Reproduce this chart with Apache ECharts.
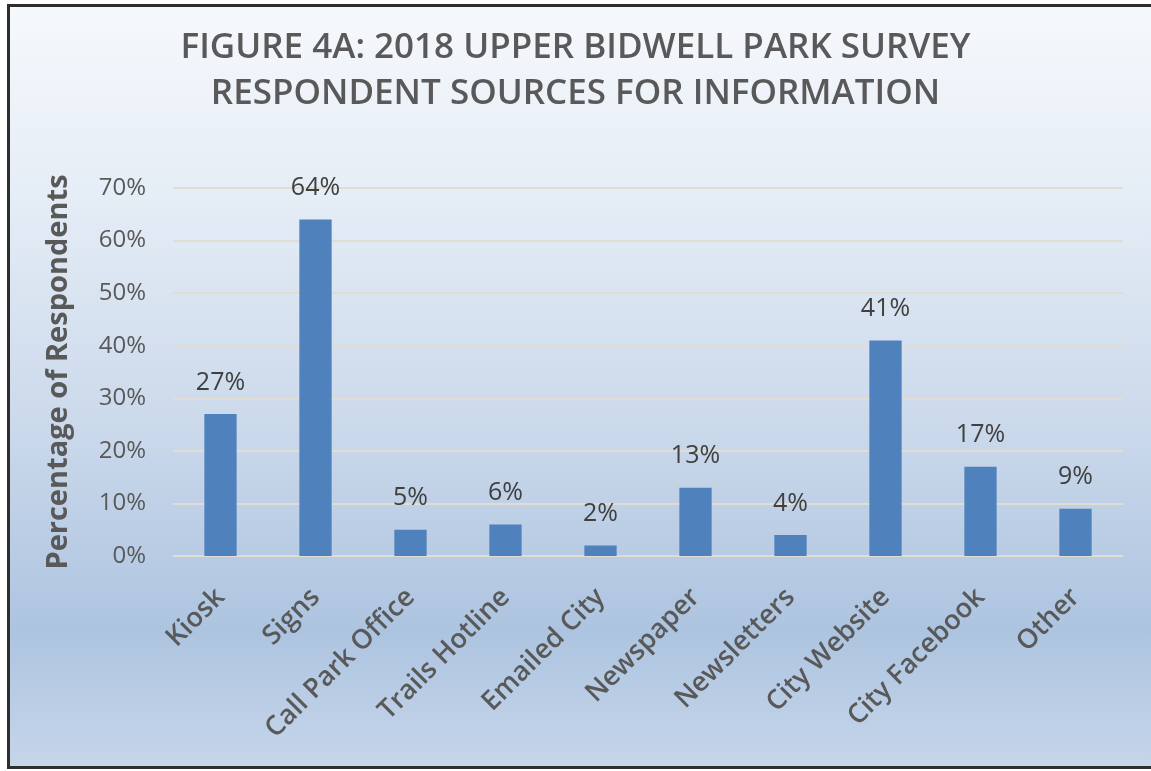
<!DOCTYPE html>
<html>
<head>
<meta charset="utf-8">
<script src="https://cdn.jsdelivr.net/npm/echarts@6/dist/echarts.min.js"></script>
<style>
  html, body { margin: 0; padding: 0; background: #ffffff; }
  #chart { width: 1151px; height: 771px; }
</style>
</head>
<body>
<div id="chart"></div>
<script>
// Survey answers: where respondents get park information
const titleLines = [
  'FIGURE 4A: 2018 UPPER BIDWELL PARK SURVEY',
  'RESPONDENT SOURCES FOR INFORMATION'
];
const categories = [
  'Kiosk', 'Signs', 'Call Park Office', 'Trails Hotline', 'Emailed City',
  'Newspaper', 'Newsletters', 'City Website', 'City Facebook', 'Other'
];
const percentages = [27, 64, 5, 6, 2, 13, 4, 41, 17, 9];
const yAxisName = 'Percentage of Respondents';
const yTicks = { min: 0, max: 70, interval: 10 };

const chart = echarts.init(document.getElementById('chart'), null, { renderer: 'canvas' });

const textGrey = '#595959';
const font = "'Open Sans', sans-serif";

chart.setOption({
  animation: false,
  backgroundColor: '#ffffff',
  graphic: [
    {
      type: 'rect',
      z: -10,
      shape: { x: 8.5, y: 5.5, width: 1160, height: 762 },
      style: {
        fill: new echarts.graphic.LinearGradient(0, 0, 0, 1, [
          { offset: 0, color: '#f6f9fc' },
          { offset: 0.25, color: '#e5edf6' },
          { offset: 0.55, color: '#cbd9eb' },
          { offset: 0.82, color: '#adc4e0' },
          { offset: 1, color: '#c6d6ea' }
        ]),
        stroke: '#2e2e2e',
        lineWidth: 3
      }
    }
  ],
  title: {
    text: titleLines.join('\n'),
    left: 'center',
    top: 20,
    textStyle: {
      fontFamily: font,
      fontWeight: 600,
      fontSize: 35,
      lineHeight: 46,
      color: textGrey
    }
  },
  grid: {
    left: 173,
    right: 28,
    top: 188,
    bottom: 215
  },
  xAxis: {
    type: 'category',
    data: categories,
    axisLine: { show: false },
    axisTick: { show: false },
    axisLabel: {
      rotate: 45,
      margin: 37,
      interval: 0,
      fontFamily: font,
      fontWeight: 600,
      fontSize: 27,
      color: textGrey
    }
  },
  yAxis: {
    type: 'value',
    min: yTicks.min,
    max: yTicks.max,
    interval: yTicks.interval,
    name: yAxisName,
    nameLocation: 'middle',
    nameGap: 100,
    nameTextStyle: {
      fontFamily: font,
      fontWeight: 'bold',
      fontSize: 29,
      color: textGrey
    },
    axisLine: { show: false },
    axisTick: { show: false },
    axisLabel: {
      margin: 27,
      fontFamily: font,
      fontSize: 24,
      color: textGrey,
      formatter: v => v + '%'
    },
    splitLine: {
      lineStyle: { color: '#e2ddd3', width: 2 }
    }
  },
  series: [
    {
      type: 'bar',
      data: percentages,
      barWidth: '34%',
      itemStyle: { color: '#4f81bd' },
      label: {
        show: true,
        position: 'top',
        distance: 19,
        fontFamily: font,
        fontSize: 25,
        color: '#404040',
        formatter: p => p.value + '%'
      }
    }
  ]
});
</script>
</body>
</html>
